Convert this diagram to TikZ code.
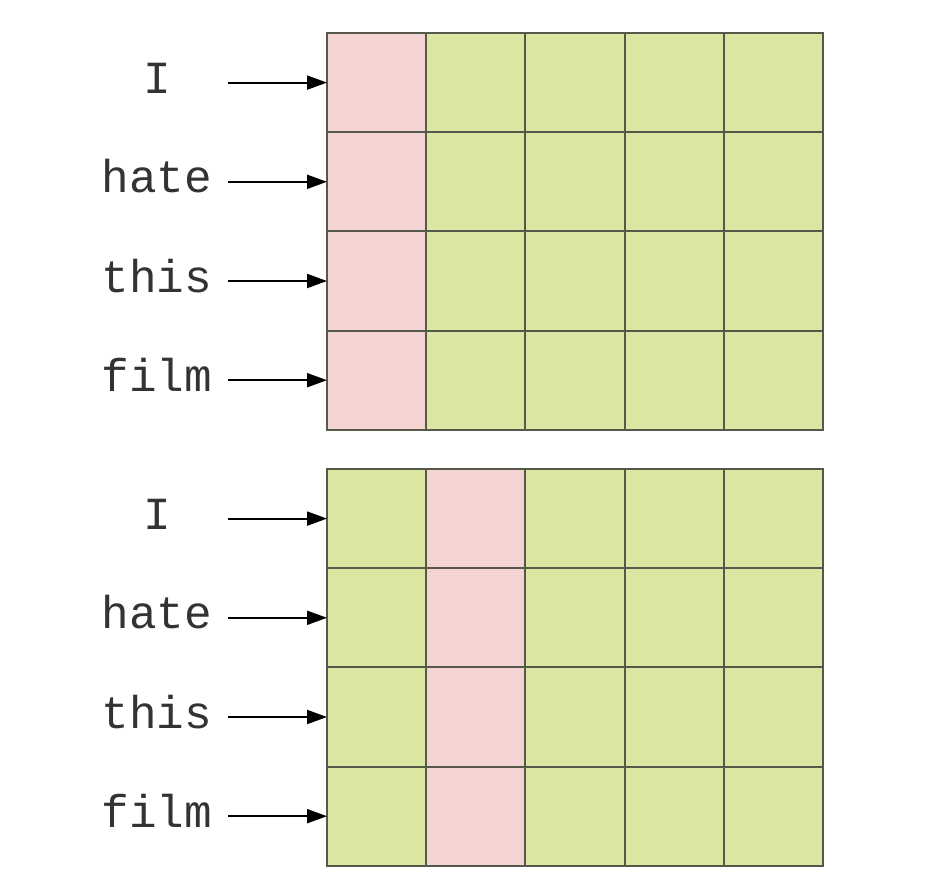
\documentclass[tikz,border=0pt]{standalone}
\usepackage{fontspec}
\setmonofont{Liberation Mono}
\usetikzlibrary{positioning,arrows.meta}

\definecolor{cellgreen}{HTML}{DCE6A2}
\definecolor{cellpink}{HTML}{F4D3D3}
\definecolor{cellline}{HTML}{55594A}
\definecolor{wordgray}{HTML}{333333}

\begin{document}
\begin{tikzpicture}[x=0.5pt,y=-0.5pt,
  cell/.style={draw=cellline,line width=1pt,minimum size=49.6pt,inner sep=0pt,outer sep=0pt},
  word/.style={font=\ttfamily\fontsize{23}{27}\selectfont,text=wordgray,text width=60pt,
    align=center,inner sep=0pt,text height=15pt,text depth=4pt},
  pointer/.style={-{Triangle[length=10pt,width=7pt]},line width=1pt,shorten <=5.5pt}]
  \useasboundingbox (0,0) rectangle (950,894);

  % two grids: a (top, first column red), b (bottom, second column red)
  \foreach \g/\top/\hi in {a/33/1,b/469/2} {
    \foreach \r in {1,...,4} {
      \foreach \c in {1,...,5} {
        \ifnum\c=\hi \def\cellfill{cellpink}\else \def\cellfill{cellgreen}\fi
        \node[cell,fill=\cellfill] (\g-\r-\c) at ({327+(\c-0.5)*99.2},{\top+(\r-0.5)*99.2}) {};
      }
    }
    \foreach \w [count=\r] in {I,hate,this,film} {
      \node[word] (\g-w\r) at (157,{\top+(\r-0.5)*99.2}) {\w};
      \draw[pointer] (\g-w\r) -- (\g-\r-1.west);
    }
  }
\end{tikzpicture}
\end{document}
